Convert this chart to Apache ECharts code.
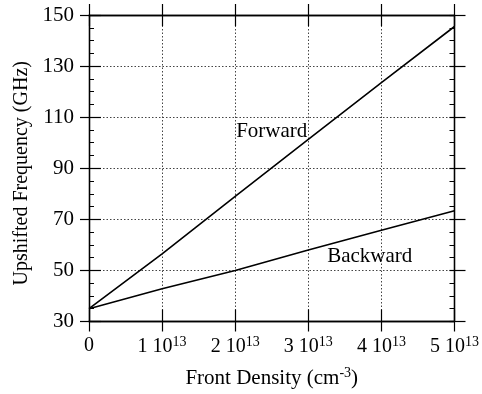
<!DOCTYPE html>
<html lang="en">
<head>
    <meta charset="UTF-8">
    <title>Upshifted Frequency</title>
    <script src="https://cdn.jsdelivr.net/npm/echarts@6/dist/echarts.min.js"></script>
    <style>html,body{margin:0;padding:0;background:#fff;}</style>
</head>
<body>
    <div id="main" style="width:482px;height:394px;"></div>

    <script>
// data
var density  = [0, 1e13, 2e13, 3e13, 4e13, 5e13];
var forward  = [35, 56.5, 79, 101.3, 123.5, 145.5];
var backward = [35, 42.8, 50, 58, 65.7, 73.4];
var labelForward  = ['Forward', 2.5e13, 104.5];
var labelBackward = ['Backward', 3.84e13, 55.3];

var font = 'Liberation Serif';
var ink = '#000';

function pairs(ys) {
    return density.map(function (x, i) { return [x, ys[i]]; });
}

// one extra axis per side/direction for the crossing ticks
function xExtra(pos, inside, len) {
    return {
        type: 'value', position: pos, min: 0, max: 5e13, interval: 1e13,
        axisLine: { show: true, onZero: false, lineStyle: { color: ink, width: 1.3 } },
        axisTick: { show: true, inside: inside, length: len, lineStyle: { color: ink, width: 1.2 } },
        axisLabel: { show: false }, splitLine: { show: false }
    };
}
function yExtra(pos, inside, len, minor) {
    return {
        type: 'value', position: pos, min: 30, max: 150, interval: 20,
        axisLine: { show: true, onZero: false, lineStyle: { color: ink, width: 1.3 } },
        axisTick: { show: true, inside: inside, length: len, lineStyle: { color: ink, width: 1.2 } },
        minorTick: { show: minor, splitNumber: 4, length: 5, lineStyle: { color: ink, width: 1 } },
        axisLabel: { show: false }, splitLine: { show: false }
    };
}

var myChart = echarts.init(document.getElementById('main'));
myChart.setOption({
    animation: false,
    textStyle: { fontFamily: font, color: ink },
    grid: { left: 89, right: 27, top: 15, bottom: 71 },
    xAxis: [{
        type: 'value', min: 0, max: 5e13, interval: 1e13, position: 'bottom',
        name: 'Front Density (cm{s|-3})',
        nameLocation: 'middle', nameGap: 45,
        nameTextStyle: {
            fontFamily: font, fontSize: 21, color: ink,
            rich: { s: { fontFamily: font, fontSize: 14, color: ink, padding: [0, 0, 10, 0] } }
        },
        axisLine: { show: true, onZero: false, lineStyle: { color: ink, width: 1.3 } },
        axisTick: { show: true, length: 10, lineStyle: { color: ink, width: 1.2 } },
        axisLabel: {
            margin: 14, fontFamily: font, fontSize: 20, color: ink,
            formatter: function (v) {
                if (v === 0) return '{n|0}';
                return '{n|' + Math.round(v / 1e13) + ' 10}{s|13}';
            },
            rich: {
                n: { fontFamily: font, fontSize: 20, color: ink },
                s: { fontFamily: font, fontSize: 14, color: ink, padding: [0, 0, 9, 0] }
            }
        },
        splitLine: { show: true, lineStyle: { color: '#444', type: [1.5, 2], width: 1 } }
    },
        xExtra('bottom', true, 12),
        xExtra('top', false, 11),
        xExtra('top', true, 11)
    ],
    yAxis: [{
        type: 'value', min: 30, max: 150, interval: 20, position: 'left',
        name: 'Upshifted Frequency (GHz)',
        nameLocation: 'middle', nameGap: 57,
        nameTextStyle: { fontFamily: font, fontSize: 20, color: ink, padding: [0, 10, 0, 0] },
        axisLine: { show: true, onZero: false, lineStyle: { color: ink, width: 1.3 } },
        axisTick: { show: true, length: 9, lineStyle: { color: ink, width: 1.2 } },
        axisLabel: { margin: 15, fontFamily: font, fontSize: 21, color: ink },
        splitLine: { show: true, lineStyle: { color: '#444', type: [1.5, 2], width: 1 } }
    },
        yExtra('left', true, 12, true),
        yExtra('right', false, 11, false),
        yExtra('right', true, 5, true)
    ],
    series: [{
        name: 'Forward', type: 'line', data: pairs(forward),
        showSymbol: false, symbol: 'none',
        lineStyle: { color: ink, width: 1.6 },
        markPoint: {
            symbol: 'circle', symbolSize: 0,
            label: { show: true, position: 'inside', formatter: '{b}', fontFamily: font, fontSize: 21, color: ink },
            data: [{ name: labelForward[0], coord: [labelForward[1], labelForward[2]] }]
        }
    }, {
        name: 'Backward', type: 'line', data: pairs(backward),
        showSymbol: false, symbol: 'none',
        lineStyle: { color: ink, width: 1.6 },
        markPoint: {
            symbol: 'circle', symbolSize: 0,
            label: { show: true, position: 'inside', formatter: '{b}', fontFamily: font, fontSize: 21, color: ink },
            data: [{ name: labelBackward[0], coord: [labelBackward[1], labelBackward[2]] }]
        }
    }]
});
    </script>
</body>
</html>
